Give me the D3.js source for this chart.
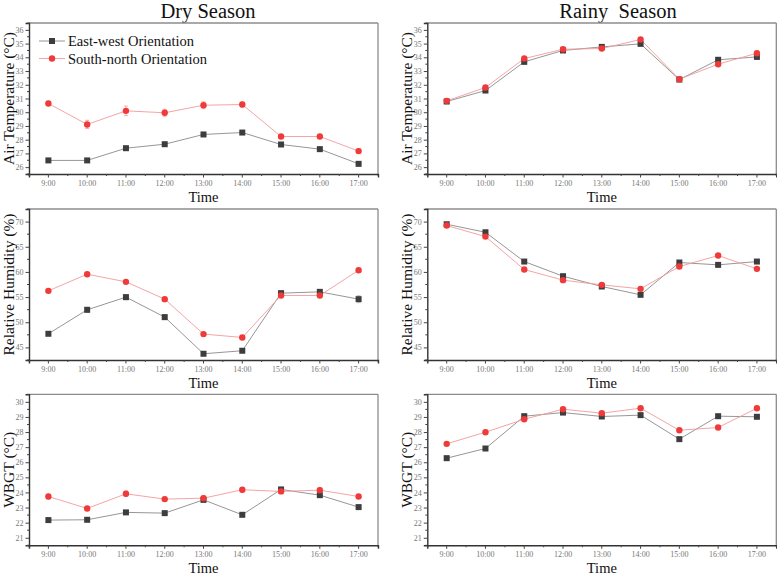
<!DOCTYPE html>
<html><head><meta charset="utf-8">
<script src="https://cdn.jsdelivr.net/npm/d3@7"></script>
<style>body{margin:0;background:#fff}svg{display:block}</style>
</head><body><svg id="c" width="777" height="576"></svg>
<script>
const times = ["9:00","10:00","11:00","12:00","13:00","14:00","15:00","16:00","17:00"];
const seriesNames = ["East-west Orientation","South-north Orientation"];
const seasonTitles = ["Dry Season","Rainy  Season"];
const yLabels = ["Air Temperature (\u00B0C)","Relative Humidity (%)","WBGT (\u00B0C)"];
const yDomains = [[25.5,36.5],[42.5,72.5],[20.5,30.5]];
const yTickValues = [[26,27,28,29,30,31,32,33,34,35,36],[45,50,55,60,65,70],[21,22,23,24,25,26,27,28,29,30]];
const yMinorStep = [0.5,2.5,0.5];

// Dry season
const dryTempEW = [26.49,26.49,27.38,27.67,28.38,28.52,27.65,27.31,26.24];
const dryTempSN = [30.64,29.11,30.10,29.96,30.51,30.56,28.23,28.23,27.17];
const dryTempSNErr = [0.15,0.3,0.35,0.25,0.25,0.18,0.1,0.1,0.18];
const dryRHEW = [47.71,52.47,54.99,51.02,43.74,44.34,55.78,56.04,54.59];
const dryRHEWErr = [0.3,0.5,0.5,0.5,0.2,0.3,0.3,0.3,0.7];
const dryRHSN = [56.24,59.55,58.03,54.59,47.65,46.98,55.32,55.32,60.34];
const dryWBGTEW = [22.17,22.19,22.68,22.63,23.51,22.52,24.20,23.82,23.03];
const dryWBGTSN = [23.73,22.94,23.91,23.56,23.62,24.18,24.07,24.15,23.73];
const dryWBGTSNErr = [0.15,0.1,0.18,0.12,0.18,0.15,0.1,0.18,0.1];
// Rainy season
const rainTempEW = [30.78,31.58,33.67,34.50,34.76,34.98,32.38,33.82,34.03];
const rainTempSN = [30.83,31.80,33.91,34.59,34.64,35.30,32.41,33.50,34.30];
const rainRHEW = [69.47,67.88,62.06,59.15,57.10,55.45,61.87,61.40,62.06];
const rainRHSN = [69.21,67.02,60.48,58.36,57.43,56.64,61.07,63.25,60.61];
const rainWBGTEW = [26.27,26.91,29.05,29.29,29.03,29.12,27.53,29.05,29.01];
const rainWBGTSN = [27.22,27.99,28.85,29.51,29.25,29.58,28.12,28.30,29.58];

const panels = [
  [{ew:dryTempEW,sn:dryTempSN,snErr:dryTempSNErr},{ew:rainTempEW,sn:rainTempSN}],
  [{ew:dryRHEW,sn:dryRHSN,ewErr:dryRHEWErr},{ew:rainRHEW,sn:rainRHSN}],
  [{ew:dryWBGTEW,sn:dryWBGTSN,snErr:dryWBGTSNErr},{ew:rainWBGTEW,sn:rainWBGTSN}]
];

const svg = d3.select("#c");
const serif = "'Liberation Serif','Times New Roman',serif";
const colLeft = [29, 427.3], plotW = 349;
const rowTop = [23, 209, 394.3], plotH = 151;
const ewCol = "#3d3d3d", ewLine = "#8a8a8a", snCol = "#f03a3a", snLine = "#f39a9a";

seasonTitles.forEach((t,c)=>{
  svg.append("text").attr("x", c ? 618 : 208).attr("y",18)
    .attr("text-anchor","middle").attr("font-family",serif).attr("font-size",20.5).attr("fill","#111")
    .attr("xml:space","preserve").style("white-space","pre").text(t);
});

for (let r=0;r<3;r++) for (let c=0;c<2;c++) {
  const x0 = colLeft[c], y0 = rowTop[r];
  const g = svg.append("g").attr("transform",`translate(${x0},${y0})`);
  const x = d3.scaleBand().domain(times).range([0,plotW]);
  const xc = d => x(d)+x.bandwidth()/2;
  const y = d3.scaleLinear().domain(yDomains[r]).range([plotH,0]);

  // frame top/right
  g.append("line").attr("x1",0).attr("x2",plotW).attr("y1",0).attr("y2",0).attr("stroke","#8c8c8c").attr("stroke-width",1.3);
  g.append("line").attr("x1",plotW).attr("x2",plotW).attr("y1",0).attr("y2",plotH).attr("stroke","#8c8c8c").attr("stroke-width",1.3);

  // y axis
  const ya = d3.axisLeft(y).tickValues(yTickValues[r]).tickSize(3.5).tickPadding(2).tickFormat(d3.format("d"));
  const yg = g.append("g").call(ya);
  yg.select(".domain").attr("stroke","#333").attr("stroke-width",1.4);
  yg.selectAll(".tick line").attr("stroke","#444");
  yg.selectAll("text").attr("font-family",serif).attr("font-size",8).attr("fill","#777");
  const minorY = d3.range(Math.ceil(yDomains[r][0]/yMinorStep[r])*yMinorStep[r], yDomains[r][1]+1e-9, yMinorStep[r])
     .filter(v=>!yTickValues[r].includes(v));
  g.selectAll(".ymin").data(minorY).join("line").attr("x1",-2).attr("x2",0)
     .attr("y1",d=>y(d)).attr("y2",d=>y(d)).attr("stroke","#444");

  // x axis
  const xa = d3.axisBottom(x).tickSize(3.5).tickPadding(3);
  const xg = g.append("g").attr("transform",`translate(0,${plotH})`).call(xa);
  xg.select(".domain").attr("stroke","#333").attr("stroke-width",1.4);
  xg.selectAll(".tick line").attr("stroke","#444");
  xg.selectAll("text").attr("font-family",serif).attr("font-size",8).attr("fill","#777");
  const minorX = d3.range(0,times.length+1).map(i=>i*x.step());
  g.selectAll(".xmin").data(minorX).join("line").attr("y1",plotH).attr("y2",plotH+2)
     .attr("x1",d=>d).attr("x2",d=>d).attr("stroke","#444");

  // labels
  g.append("text").attr("x",plotW/2).attr("y",plotH+28).attr("text-anchor","middle")
    .attr("font-family",serif).attr("font-size",14.5).attr("fill","#111").text("Time");
  g.append("text").attr("transform",`translate(${-15},${plotH/2}) rotate(-90)`).attr("text-anchor","middle")
    .attr("font-family",serif).attr("font-size",15.5).attr("fill","#111").text(yLabels[r]);

  const p = panels[r][c];
  const line = d3.line().x((d,i)=>xc(times[i])).y(d=>y(d));
  const drawErr = (vals, errs, col) => {
    if (!errs) return;
    const eg = g.append("g").attr("stroke",col).attr("stroke-width",0.8).attr("opacity",0.7);
    vals.forEach((v,i)=>{
      const cx = xc(times[i]);
      eg.append("line").attr("x1",cx).attr("x2",cx).attr("y1",y(v-errs[i])).attr("y2",y(v+errs[i]));
      eg.append("line").attr("x1",cx-2).attr("x2",cx+2).attr("y1",y(v-errs[i])).attr("y2",y(v-errs[i]));
      eg.append("line").attr("x1",cx-2).attr("x2",cx+2).attr("y1",y(v+errs[i])).attr("y2",y(v+errs[i]));
    });
  };
  g.append("path").datum(p.ew).attr("d",line).attr("fill","none").attr("stroke",ewLine).attr("stroke-width",0.9);
  g.append("path").datum(p.sn).attr("d",line).attr("fill","none").attr("stroke",snLine).attr("stroke-width",0.9);
  drawErr(p.ew,p.ewErr,"#999");
  drawErr(p.sn,p.snErr,"#f07070");
  g.selectAll(".ew").data(p.ew).join("rect")
    .attr("x",(d,i)=>xc(times[i])-3).attr("y",d=>y(d)-3).attr("width",6).attr("height",6).attr("fill",ewCol);
  g.selectAll(".sn").data(p.sn).join("circle")
    .attr("cx",(d,i)=>xc(times[i])).attr("cy",d=>y(d)).attr("r",3.2).attr("fill",snCol);

  if (r===0 && c===0) {
    const lg = g.append("g");
    seriesNames.forEach((n,i)=>{
      const ly = 18 + i*17.5;
      lg.append("line").attr("x1",10).attr("x2",36).attr("y1",ly).attr("y2",ly).attr("stroke",i?snLine:ewLine).attr("stroke-width",0.9);
      if (i===0) lg.append("rect").attr("x",20).attr("y",ly-3).attr("width",6).attr("height",6).attr("fill",ewCol);
      else lg.append("circle").attr("cx",23).attr("cy",ly).attr("r",3.2).attr("fill",snCol);
      lg.append("text").attr("x",39).attr("y",ly+5).attr("font-family",serif).attr("font-size",14.5).attr("fill","#111").text(n);
    });
  }
}
</script></body></html>
